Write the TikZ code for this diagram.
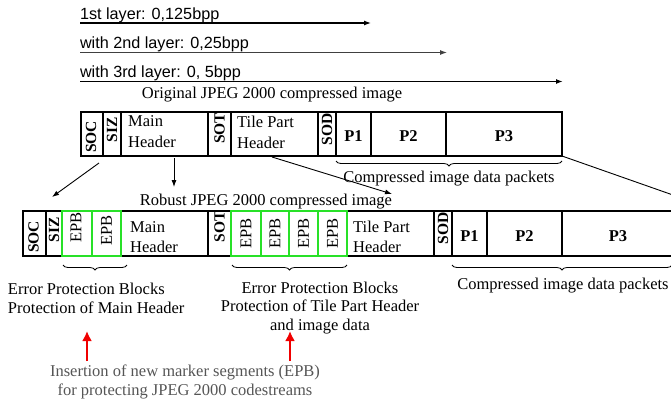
\documentclass[tikz,border=0pt]{standalone}
\usepackage{fontspec}
\usepackage{graphicx}
\setmainfont{Liberation Serif}
\newfontfamily\sansf{Liberation Sans}
\usetikzlibrary{arrows.meta,decorations.pathreplacing}
\definecolor{epbgreen}{RGB}{40,225,40}
\definecolor{notegray}{RGB}{85,85,85}
\definecolor{arrred}{RGB}{240,0,0}
\newcommand{\seg}[5]{\node[cellst,#5,minimum width={(#3-#2)*1pt}] (#1) at (#2,#4) {};}
\tikzset{
  cellst/.style={draw, line width=1.2pt, anchor=north west, inner sep=0pt, outer sep=0pt},
  rowa/.style={minimum height=44pt},
  rowb/.style={minimum height=45pt},
  epbcell/.style={draw=epbgreen},
  serif16/.style={font=\fontsize{16.5}{18.7}\selectfont},
  txt/.style={inner sep=0pt, outer sep=0pt, serif16},
  sanstxt/.style={inner sep=0pt, outer sep=0pt, font=\sansf\fontsize{16.2}{19}\selectfont, anchor=base west},
  rotlab/.style={inner sep=0pt, rotate=90, font=\fontsize{15.5}{15.5}\selectfont\bfseries},
  epblab/.style={inner sep=0pt, rotate=90, font=\fontsize{16.5}{16.5}\selectfont},
  plab/.style={inner sep=0pt, font=\fontsize{16.5}{16.5}\selectfont\bfseries},
  hdrlab/.style={inner sep=0pt, anchor=west, align=left},
  blkarrow/.style={-{Latex[length=7pt,width=5pt]}, line width=0.9pt},
  layerarrow/.style={-{Latex[length=7pt,width=5pt]}},
  bracest/.style={decorate, decoration={brace, mirror, amplitude=5pt}, line width=0.8pt},
  redarrow/.style={-{Latex[length=10pt,width=10pt]}, line width=2.7pt, draw=arrred},
}
\begin{document}
\begin{tikzpicture}[x=1pt,y=-1pt]
\useasboundingbox (0,0) rectangle (671,405);
% layer arrows
\node[sanstxt] (l1) at (80,19) {1st layer: 0,125bpp};
\node[sanstxt] (l2) at (80,48.5) {with 2nd layer: 0,25bpp};
\node[sanstxt] (l3) at (80,77.5) {with 3rd layer: 0, 5bpp};
\coordinate (l1s) at (80,23); \coordinate (l1e) at (371,23);
\coordinate (l2s) at (80,52.5); \coordinate (l2e) at (447,52.5);
\coordinate (l3s) at (80,81.5); \coordinate (l3e) at (563,81.5);
\draw[layerarrow, line width=1.2pt] (l1s) -- (l1e);
\draw[layerarrow, line width=1pt, draw=black!75] (l2s) -- (l2e);
\draw[layerarrow, line width=1.5pt] (l3s) -- (l3e);

% original stream
\node[txt, anchor=base] (otitle) at (272,98.5) {Original JPEG 2000 compressed image};
\seg{osoc}{81}{103}{112}{rowa}
\seg{osiz}{103}{121}{112}{rowa}
\seg{omain}{121}{208}{112}{rowa}
\seg{osot}{208}{231}{112}{rowa}
\seg{otile}{231}{318}{112}{rowa}
\seg{osod}{318}{336}{112}{rowa}
\seg{op1}{336}{371}{112}{rowa}
\seg{op2}{371}{446}{112}{rowa}
\seg{op3}{446}{562}{112}{rowa}
\node[rotlab] (osoct) at ([xshift=-1pt,yshift=-3pt]osoc.center) {SOC};
\node[rotlab, anchor=east] (osizt) at ([yshift=-5pt]osiz.north) {SIZ};
\node[rotlab, anchor=east] (osott) at ([yshift=-0.5pt]osot.north) {SOT};
\node[rotlab, anchor=east] (osodt) at ([yshift=-1pt]osod.north) {SOD};
\node[hdrlab, font=\fontsize{16.5}{21}\selectfont] (omaint) at ([xshift=7pt,yshift=2pt]omain.west) {Main\\Header};
\node[hdrlab, font=\fontsize{16.5}{21}\selectfont] (otilet) at ([xshift=6pt,yshift=2pt]otile.west) {Tile Part\\Header};
\node[plab] (op1t) at ([yshift=-2.5pt]op1.center) {P1};
\node[plab] (op2t) at ([yshift=-2.5pt]op2.center) {P2};
\node[plab] (op3t) at ([yshift=-2.5pt]op3.center) {P3};
\coordinate (ob1) at (336,161); \coordinate (ob2) at (562,161);
\draw[bracest] (ob1) -- (ob2);
\node[txt, anchor=base] (opack) at (449,182) {Compressed image data packets};

% connectors
\coordinate (c1s) at (99,163); \coordinate (c1e) at (52,197);
\coordinate (c2s) at (174,158); \coordinate (c2e) at (174,187);
\coordinate (c3s) at (272,157); \coordinate (c3e) at (392,194);
\coordinate (c4e) at (690,201);
\draw[blkarrow] (c1s) -- (c1e);
\draw[blkarrow] (c2s) -- (c2e);
\draw[blkarrow] (c3s) -- (c3e);
\draw[line width=0.9pt] (op3.south east) -- (c4e);

% robust stream
\node[txt, anchor=base] (rtitle) at (266,205) {Robust JPEG 2000 compressed image};
\seg{rsoc}{23}{46}{211}{rowb}
\seg{rsiz}{46}{62}{211}{rowb}
\seg{rmain}{121}{208}{211}{rowb}
\seg{rsot}{208}{231}{211}{rowb}
\seg{rtile}{347}{434}{211}{rowb}
\seg{rsod}{434}{452}{211}{rowb}
\seg{rp1}{452}{487}{211}{rowb}
\seg{rp2}{487}{562}{211}{rowb}
\seg{rp3}{562}{674}{211}{rowb}
\seg{re1}{62}{92}{211}{rowb,epbcell}
\seg{re2}{92}{121}{211}{rowb,epbcell}
\seg{re3}{231}{261}{211}{rowb,epbcell}
\seg{re4}{261}{289}{211}{rowb,epbcell}
\seg{re5}{289}{318}{211}{rowb,epbcell}
\seg{re6}{318}{347}{211}{rowb,epbcell}
\node[rotlab] (rsoct) at ([xshift=-1pt,yshift=-3.5pt]rsoc.center) {SOC};
\node[rotlab, anchor=east] (rsizt) at ([yshift=-6pt]rsiz.north) {SIZ};
\node[rotlab, anchor=east] (rsott) at ([yshift=0pt]rsot.north) {SOT};
\node[rotlab, anchor=east] (rsodt) at ([yshift=-1.5pt]rsod.north) {SOD};
\node[epblab] (re1t) at ([xshift=-1pt,yshift=6pt]re1.center) {EPB};
\node[epblab] (re2t) at ([yshift=3pt]re2.center) {EPB};
\node[epblab] (re3t) at ([yshift=0pt]re3.center) {EPB};
\node[epblab] (re4t) at ([yshift=0pt]re4.center) {EPB};
\node[epblab] (re5t) at ([yshift=0pt]re5.center) {EPB};
\node[epblab] (re6t) at ([yshift=0pt]re6.center) {EPB};
\node[hdrlab, font=\fontsize{16.5}{20}\selectfont] (rmaint) at ([xshift=9pt,yshift=-3.5pt]rmain.west) {Main\\Header};
\node[hdrlab, font=\fontsize{16.5}{20}\selectfont] (rtilet) at ([xshift=6pt,yshift=-3.5pt]rtile.west) {Tile Part\\Header};
\node[plab] (rp1t) at ([yshift=-2.5pt]rp1.center) {P1};
\node[plab] (rp2t) at ([yshift=-2.5pt]rp2.center) {P2};
\node[plab] (rp3t) at ([yshift=-2.5pt]rp3.center) {P3};

% braces
\coordinate (rb1a) at (63,265); \coordinate (rb1b) at (127,265);
\coordinate (rb2a) at (232,265); \coordinate (rb2b) at (347,265);
\coordinate (rb3a) at (452,265); \coordinate (rb3b) at (672,265);
\draw[bracest] (rb1a) -- (rb1b);
\draw[bracest] (rb2a) -- (rb2b);
\draw[bracest] (rb3a) -- (rb3b);

\node[txt, anchor=base west, align=left] (epmain) at (8,313.5) {Error Protection Blocks\\Protection of Main Header};
\node[txt, anchor=base, align=center] (eptile) at (320,330.5) {Error Protection Blocks\\Protection of Tile Part Header\\and image data};
\node[txt, anchor=base] (rpack) at (563,289.5) {Compressed image data packets};

% red arrows
\coordinate (r1s) at (87,361); \coordinate (r1e) at (87,331);
\coordinate (r2s) at (290,361); \coordinate (r2e) at (290,331);
\draw[redarrow] (r1s) -- (r1e);
\draw[redarrow] (r2s) -- (r2e);
\node[txt, anchor=base, align=center, text=notegray] (note) at (185,395.5) {Insertion of new marker segments (EPB)\\for protecting JPEG 2000 codestreams};
\end{tikzpicture}
\end{document}
